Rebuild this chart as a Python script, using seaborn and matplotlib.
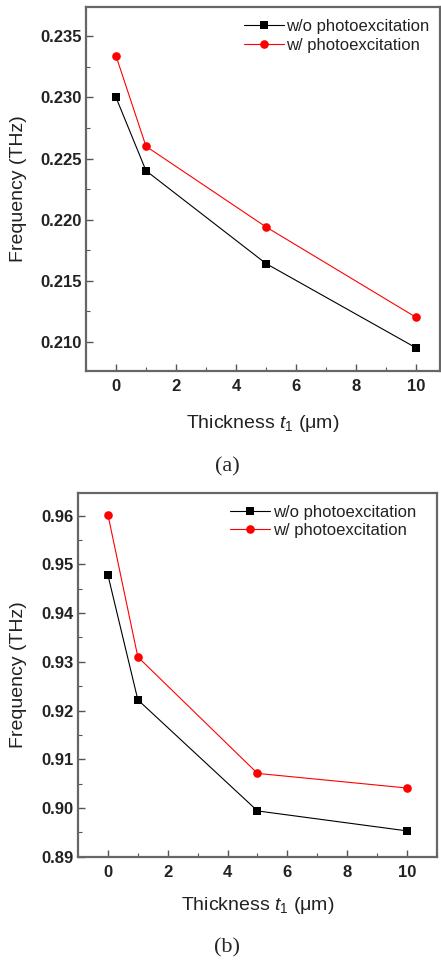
import pandas as pd
import matplotlib
matplotlib.use("Agg")
import matplotlib.pyplot as plt
from matplotlib.ticker import MultipleLocator, AutoMinorLocator
import seaborn as sns

# данные
thickness = [0, 1, 5, 10]
series_names = ["w/o photoexcitation", "w/ photoexcitation"]

freq_a_dark = [0.2300, 0.2240, 0.2164, 0.2095]
freq_a_photo = [0.2334, 0.2260, 0.2194, 0.2120]

freq_b_dark = [0.9478, 0.9222, 0.8994, 0.8953]
freq_b_photo = [0.9602, 0.9310, 0.9071, 0.9041]

sns.set_style("ticks")
plt.rcParams['font.family'] = ['Liberation Sans', 'DejaVu Sans']
plt.rcParams['mathtext.fontset'] = 'custom'
plt.rcParams['mathtext.it'] = 'Liberation Sans:italic'
plt.rcParams['mathtext.rm'] = 'Liberation Sans'

palette = {series_names[0]: "black", series_names[1]: "red"}
markers = {series_names[0]: "s", series_names[1]: "o"}


def make_df(dark, photo):
    return pd.DataFrame({
        "t": thickness * 2,
        "f": dark + photo,
        "series": [series_names[0]] * 4 + [series_names[1]] * 4,
    })


def draw(ax, df, xlim, ylim, ystep, yfmt, xlab_y, ylab_x, leg_anchor):
    sns.lineplot(data=df, x="t", y="f", hue="series", style="series",
                 palette=palette, markers=markers, dashes=False,
                 markersize=6.2, linewidth=0.8, markeredgewidth=0,
                 ax=ax)
    ax.set_xlim(*xlim)
    ax.set_ylim(*ylim)
    ax.xaxis.set_major_locator(MultipleLocator(2))
    ax.xaxis.set_minor_locator(AutoMinorLocator(2))
    ax.yaxis.set_major_locator(MultipleLocator(ystep))
    ax.yaxis.set_minor_locator(AutoMinorLocator(2))
    ax.yaxis.set_major_formatter(plt.FormatStrFormatter(yfmt))
    ax.tick_params(which="both", direction="in", color="#555555")
    ax.tick_params(which="major", length=5, width=1.0, labelsize=12, pad=6)
    ax.tick_params(which="minor", length=3, width=0.8)
    ax.tick_params(axis="y", pad=3)
    for lab in ax.get_xticklabels() + ax.get_yticklabels():
        lab.set_fontweight("bold")
        lab.set_color("#222222")
    for sp in ax.spines.values():
        sp.set_color("#666666")
        sp.set_linewidth(1.6)
    ax.set_xlabel("Thickness $t_\\mathit{1}$ (\u03bcm)", fontsize=14, color="#222222")
    ax.set_ylabel("Frequency (THz)", fontsize=14, color="#222222")
    ax.xaxis.set_label_coords(0.5, xlab_y)
    ax.yaxis.set_label_coords(ylab_x, 0.5)
    leg = ax.legend(loc="upper right", bbox_to_anchor=leg_anchor,
                    frameon=False, fontsize=12, handlelength=2.4,
                    handletextpad=0.15, labelspacing=0.2, borderaxespad=0)
    for txt in leg.get_texts():
        txt.set_color("#222222")


fig = plt.figure(figsize=(4.41, 9.65), dpi=100)

ax1 = fig.add_axes([0.195, 0.6155, 0.8027, 0.3772])
draw(ax1, make_df(freq_a_dark, freq_a_photo), (-1, 10.8), (0.2076, 0.2374),
     0.005, "%.3f", -0.115, -0.167, (0.99, 0.985))

ax2 = fig.add_axes([0.1769, 0.1122, 0.814, 0.3772])
draw(ax2, make_df(freq_b_dark, freq_b_photo), (-1, 11), (0.89, 0.9647),
     0.01, "%.2f", -0.105, -0.142, (0.96, 0.985))

fig.text(227 / 441, 1 - 467 / 965, "(a)", ha="center", va="center",
         fontsize=16, family="Liberation Serif")
fig.text(227 / 441, 1 - 948 / 965, "(b)", ha="center", va="center",
         fontsize=16, family="Liberation Serif")

fig.savefig("out.png", dpi=100)
